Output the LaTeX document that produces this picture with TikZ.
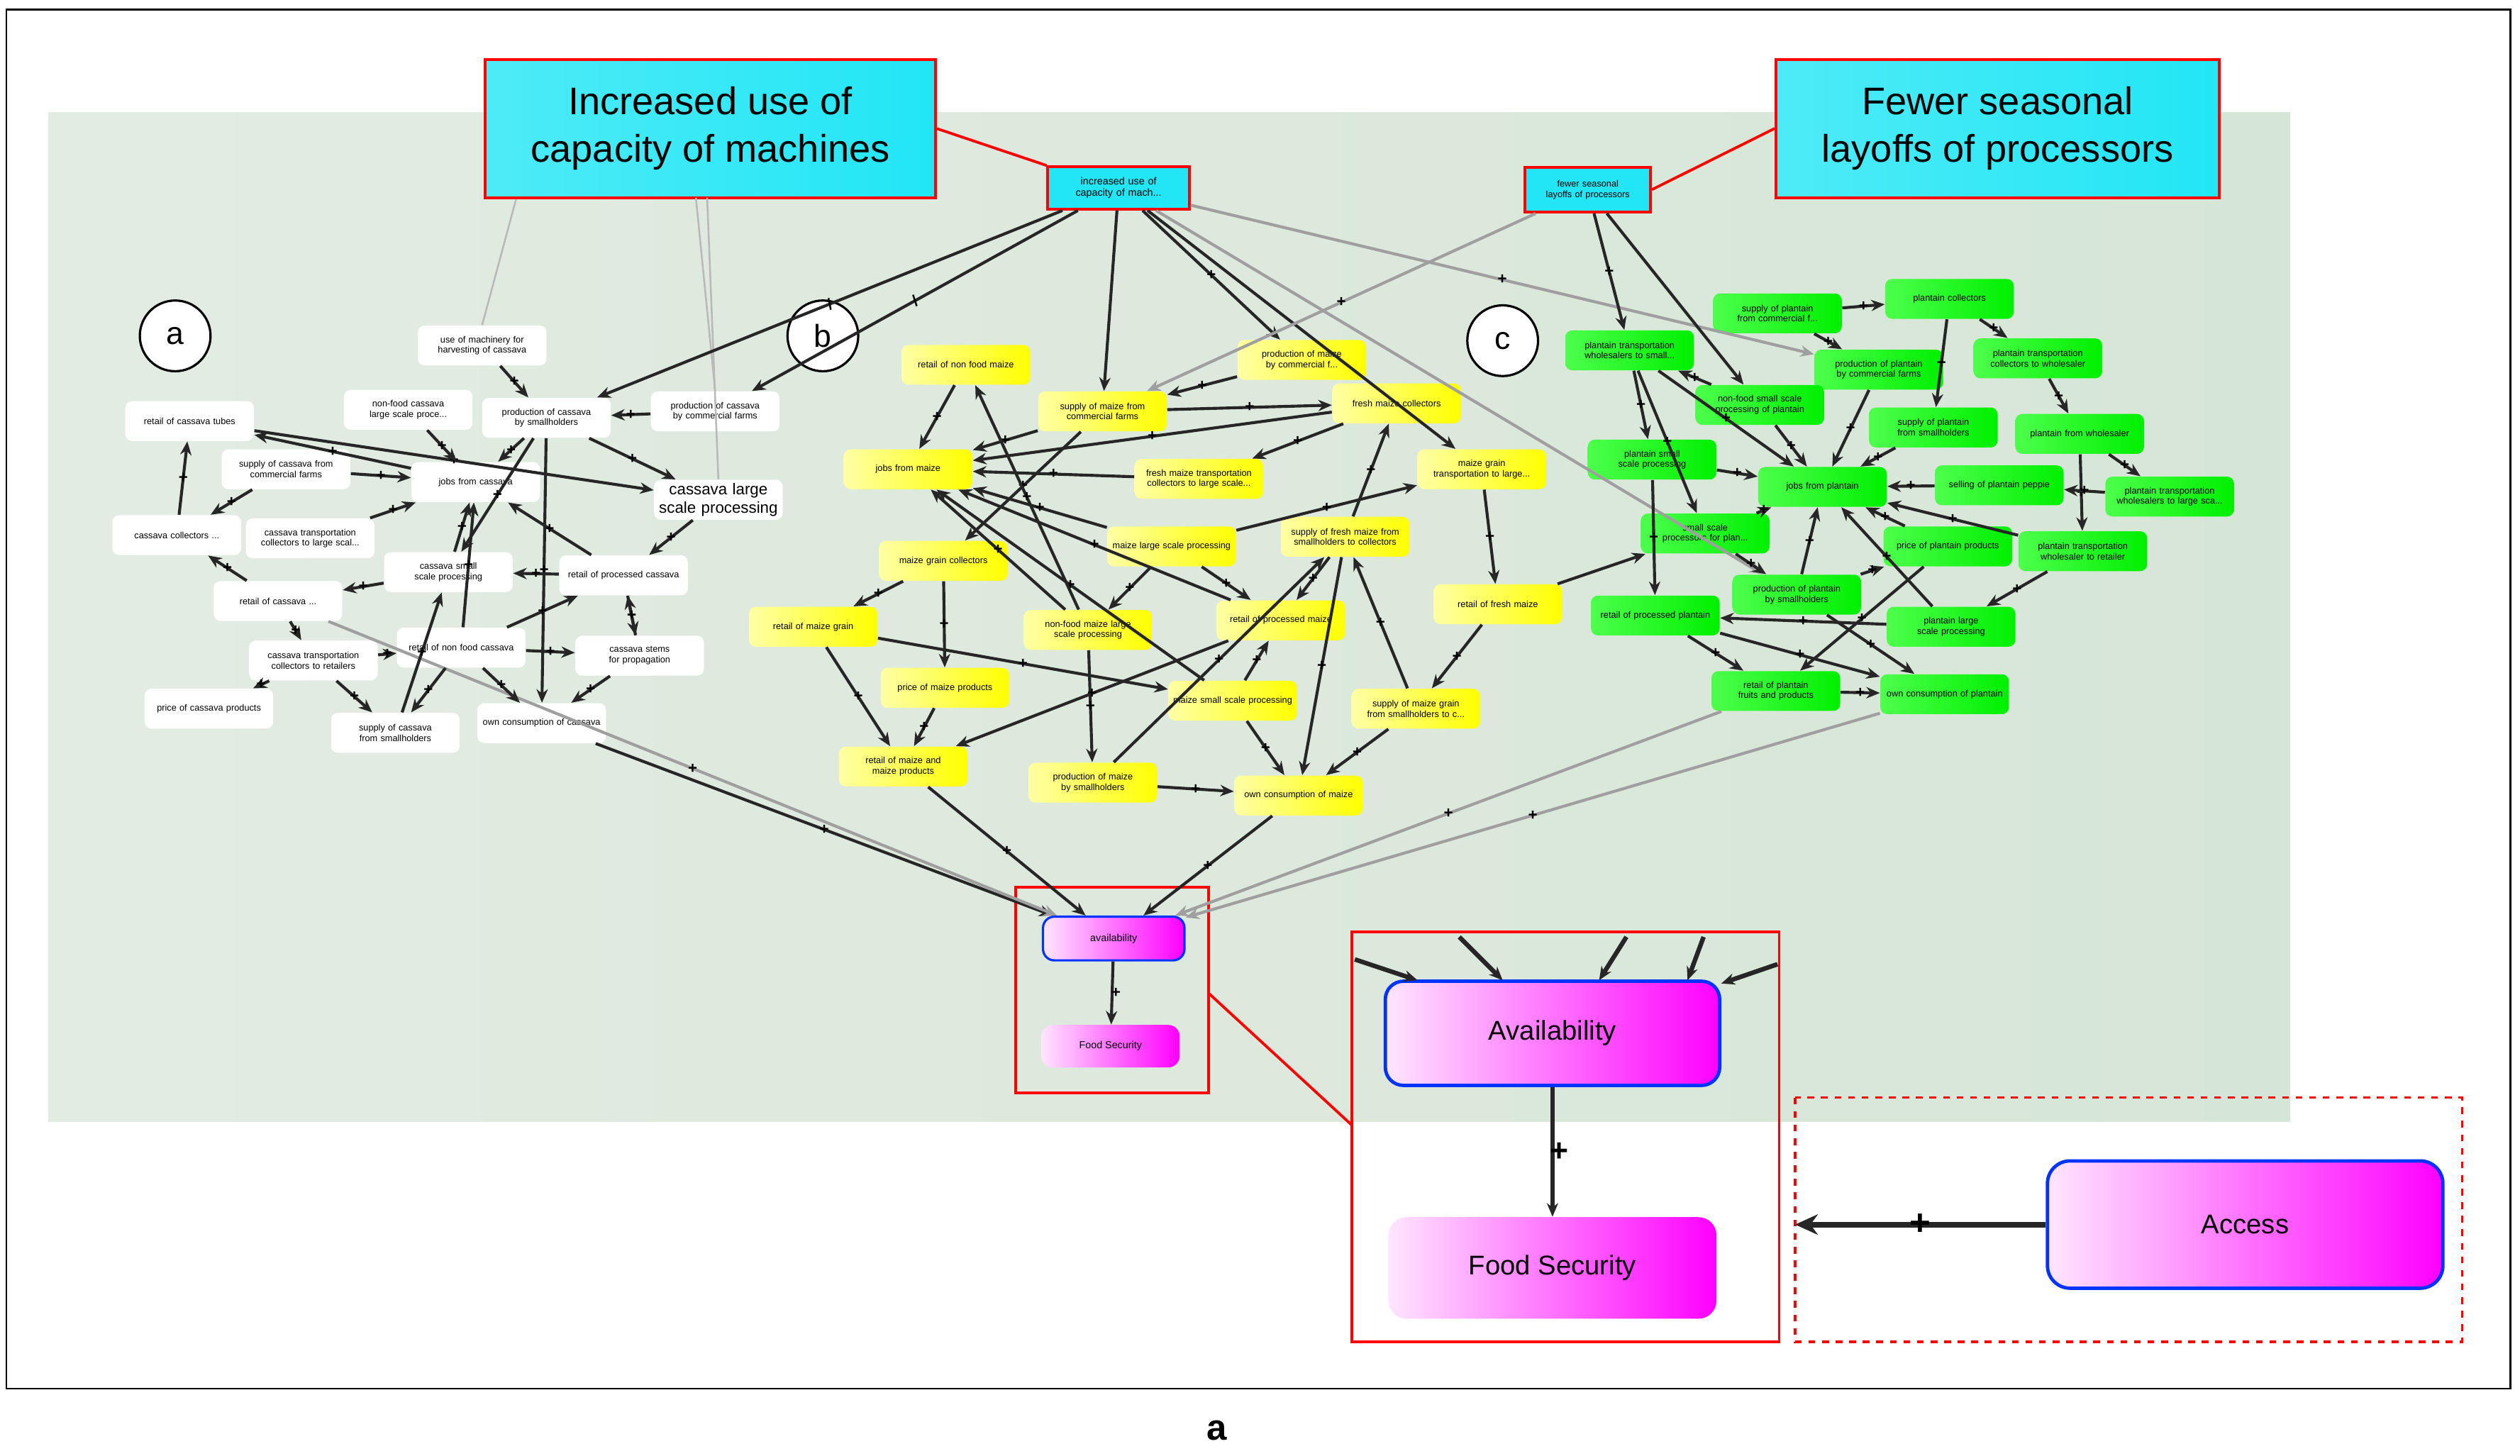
\documentclass[tikz,border=0pt]{standalone}
\usepackage{fontspec}
\setmainfont{Liberation Sans}
\usetikzlibrary{arrows.meta,shapes.geometric}
\definecolor{cy}{HTML}{22E6F5}
\definecolor{bgA}{HTML}{E3ECE3}
\definecolor{bgB}{HTML}{D6E6D6}
\newcommand\nohyph{\hyphenpenalty10000\exhyphenpenalty10000\relax}
\begin{document}
\begin{tikzpicture}[x=0.025cm,y=-0.025cm,
 sn/.style={rounded corners=3pt,minimum width=2.0cm,minimum height=0.62cm,text width=1.9cm,align=center,font=\fontsize{4}{4.6}\selectfont\nohyph,inner sep=1pt},
 wn/.style={sn,fill=white},
 yn/.style={sn,left color=yellow!35,right color=yellow,draw=none},
 gn/.style={sn,left color=green!70!white,right color=green!85!black!40!green,draw=none},
 mg/.style={rounded corners=5pt,left color=magenta!10,right color=magenta,align=center},
 e/.style={draw=black!85,line width=1.3pt,-{Stealth[length=6pt,width=5pt]}},
 eg/.style={draw=gray!75,line width=1.3pt,-{Stealth[length=6pt,width=5pt]}},
 el/.style={draw=gray!55,line width=0.8pt},
 pl/.style={font=\fontsize{7}{7}\selectfont\bfseries,inner sep=0pt,fill=none},
 rl/.style={draw=red,line width=1.2pt},
 cir/.style={circle,draw,line width=1pt,fill=white,minimum size=1.1cm,font=\fontsize{14}{14}\selectfont}]
\useasboundingbox (0,0) rectangle (1568,906);
\fill[white] (0,0) rectangle (1568,906);
\draw[line width=0.8pt] (4,6) rectangle (1562,864);
\node[font=\fontsize{16}{16}\selectfont\bfseries\rmfamily] at (757,890) {a};
\shade[left color=bgA,right color=bgB] (30,70) rectangle (1425,698);

% callouts
\node[rl,left color=cy!80!white,right color=cy,minimum width=7cm,minimum height=2.15cm,align=center,font=\fontsize{17}{21}\selectfont] (call1) at (442,80) {Increased use of\\capacity of machines};
\node[rl,left color=cy!80!white,right color=cy,minimum width=6.9cm,minimum height=2.15cm,align=center,font=\fontsize{17}{21}\selectfont] (call2) at (1243,80) {Fewer seasonal\\layoffs of processors};
\node[rl,fill=cy,minimum width=2.2cm,minimum height=0.66cm,text width=2.1cm,align=center,font=\fontsize{4.5}{5}\selectfont\nohyph,inner sep=1pt] (inc) at (696,117) {increased use of capacity of mach...};
\node[rl,fill=cy,minimum width=1.95cm,minimum height=0.7cm,text width=1.85cm,align=center,font=\fontsize{4}{4.6}\selectfont\nohyph,inner sep=1pt] (few) at (988,118) {fewer seasonal layoffs of processors};
\draw[rl] (call1.east) -- (inc.north west);
\draw[rl] (call2.west) -- (few.east);

\node[cir] (ca) at (109,209) {a};
\node[cir] (cb) at (512,209) {b};
\node[cir] (cc) at (935,212) {c};

% cassava
\node[wn] (c1) at (300,215) {use of machinery for harvesting of cassava};
\node[wn] (c2) at (254,255) {non-food cassava large scale proce...};
\node[wn] (c3) at (340,260) {production of cassava by smallholders};
\node[wn] (c4) at (445,256) {production of cassava by commercial farms};
\node[wn] (c5) at (118,262) {retail of cassava tubes};
\node[wn] (c6) at (178,292) {supply of cassava from commercial farms};
\node[wn] (c7) at (296,300) {jobs from cassava};
\node[wn,font=\fontsize{7}{8}\selectfont] (c8) at (447,311) {cassava large scale processing};
\node[wn] (c9) at (110,333) {cassava collectors ...};
\node[wn] (c10) at (193,335) {cassava transportation collectors to large scal...};
\node[wn] (c11) at (279,356) {cassava small scale processing};
\node[wn] (c12) at (388,358) {retail of processed cassava};
\node[wn] (c13) at (173,374) {retail of cassava ...};
\node[wn] (c14) at (287,403) {retail of non food cassava};
\node[wn] (c15) at (398,408) {cassava stems for propagation};
\node[wn] (c16) at (195,411) {cassava transportation collectors to retailers};
\node[wn] (c17) at (130,441) {price of cassava products};
\node[wn] (c18) at (246,456) {supply of cassava from smallholders};
\node[wn] (c19) at (337,450) {own consumption of cassava};

% maize
\node[yn] (m1) at (601,227) {retail of non food maize};
\node[yn] (m2) at (810,224) {production of maize by commercial f...};
\node[yn] (m3) at (686,256) {supply of maize from commercial farms};
\node[yn] (m4) at (869,251) {fresh maize collectors};
\node[yn] (m5) at (565,292) {jobs from maize};
\node[yn] (m6) at (746,298) {fresh maize transportation collectors to large scale...};
\node[yn] (m7) at (922,292) {maize grain transportation to large...};
\node[yn] (m8) at (729,340) {maize large scale processing};
\node[yn] (m9) at (837,334) {supply of fresh maize from smallholders to collectors};
\node[yn] (m10) at (587,349) {maize grain collectors};
\node[yn] (m11) at (932,376) {retail of fresh maize};
\node[yn] (m12) at (506,390) {retail of maize grain};
\node[yn] (m13) at (677,392) {non-food maize large scale processing};
\node[yn] (m14) at (797,386) {retail of processed maize};
\node[yn] (m15) at (588,428) {price of maize products};
\node[yn] (m16) at (767,436) {maize small scale processing};
\node[yn] (m17) at (881,441) {supply of maize grain from smallholders to c...};
\node[yn] (m18) at (562,477) {retail of maize and maize products};
\node[yn] (m19) at (680,487) {production of maize by smallholders};
\node[yn] (m20) at (808,495) {own consumption of maize};

% plantain
\node[gn] (p1) at (1106,195) {supply of plantain from commercial f...};
\node[gn] (p2) at (1213,186) {plantain collectors};
\node[gn] (p3) at (1014,218) {plantain transportation wholesalers to small...};
\node[gn] (p4) at (1169,230) {production of plantain by commercial farms};
\node[gn] (p5) at (1268,223) {plantain transportation collectors to wholesaler};
\node[gn] (p6) at (1095,252) {non-food small scale processing of plantain};
\node[gn] (p7) at (1203,266) {supply of plantain from smallholders};
\node[gn] (p8) at (1294,270) {plantain from wholesaler};
\node[gn] (p9) at (1028,286) {plantain small scale processing};
\node[gn] (p10) at (1134,303) {jobs from plantain};
\node[gn] (p11) at (1244,302) {selling of plantain peppie};
\node[gn] (p12) at (1350,309) {plantain transportation wholesalers to large sca...};
\node[gn] (p13) at (1061,332) {small scale processors for plan...};
\node[gn] (p14) at (1212,340) {price of plantain products};
\node[gn] (p15) at (1296,343) {plantain transportation wholesaler to retailer};
\node[gn] (p16) at (1118,370) {production of plantain by smallholders};
\node[gn] (p17) at (1030,383) {retail of processed plantain};
\node[gn] (p18) at (1214,390) {plantain large scale processing};
\node[gn] (p19) at (1105,430) {retail of plantain fruits and products};
\node[gn] (p20) at (1210,432) {own consumption of plantain};

% availability small box
\draw[rl] (632,552) rectangle (752,680);
\node[mg,draw=blue!80!cyan,line width=1pt,minimum width=2.2cm,minimum height=0.68cm,font=\fontsize{4.5}{5}\selectfont] (av) at (693,584) {availability};
\node[mg,minimum width=2.15cm,minimum height=0.66cm,font=\fontsize{4.5}{5}\selectfont] (fs) at (691,651) {Food Security};
\draw[e] (av) -- node[pl,right=-1pt]{+} (fs);

% zoom box
\draw[rl] (841,580) rectangle (1107,835);
\draw[rl] (752,618) -- (841,700);
\node[mg,draw=blue!80!cyan,line width=1.5pt,rounded corners=8pt,minimum width=5.2cm,minimum height=1.62cm,font=\fontsize{12}{14}\selectfont] (AV) at (966,643) {Availability};
\node[mg,rounded corners=8pt,minimum width=5.1cm,minimum height=1.58cm,font=\fontsize{12}{14}\selectfont] (FS) at (966,789) {Food Security};
\draw[e,line width=2pt] (AV) -- node[pl,font=\fontsize{14}{14}\selectfont\bfseries,right=-2pt]{+} (FS);
\coordinate (z1) at (843,597); \coordinate (z2) at (908,583); \coordinate (z3) at (1012,583);
\coordinate (z4) at (1060,583); \coordinate (z5) at (1106,600);
\draw[e,line width=2pt] (z1) -- (882,610);
\draw[e,line width=2pt] (z2) -- (935,610);
\draw[e,line width=2pt] (z3) -- (995,610);
\draw[e,line width=2pt] (z4) -- (1050,610);
\draw[e,line width=2pt] (z5) -- (1071,612);

% access
\draw[red,dashed,line width=1pt] (1117,683) rectangle (1532,835);
\node[mg,draw=blue!80!cyan,line width=1.5pt,rounded corners=10pt,minimum width=6.15cm,minimum height=1.98cm,font=\fontsize{12}{14}\selectfont] (AC) at (1397,762) {Access};
\coordinate (acl) at (1117,762);
\draw[e,line width=2.5pt,-{Stealth[length=10pt,width=9pt]}] (AC) -- node[pl,font=\fontsize{16}{16}\selectfont\bfseries]{+} (acl);

% long connections
\draw[el] (call1.south west) ++(20,0) -- (c1.north);
\draw[el] (433,123) -- (c4.north);
\draw[el] (440,123) -- (c8.north);
\draw[e] (inc) -- node[pl,sloped]{/} (c3);
\draw[e] (inc) -- node[pl,sloped]{/} (c4);
\draw[e] (inc) -- node[pl]{+} (m2);
\draw[e] (inc) -- (m3);
\draw[e] (inc) -- (m7);
\draw[eg] (inc) -- node[pl]{+} (p4);
\draw[eg] (inc) -- (p16);
\draw[eg] (few) -- node[pl]{+} (m3);
\draw[e] (few) -- node[pl]{+} (p3);
\draw[e] (few) -- (p6);
\draw[e] (c19) -- node[pl]{+} (av);
\draw[eg] (c13) -- node[pl]{+} (av);
\draw[e] (m18) -- node[pl]{+} (av);
\draw[e] (m20) -- node[pl]{+} (av);
\draw[eg] (p19) -- node[pl]{+} (av);
\draw[eg] (p20) -- node[pl]{+} (av);

% cassava edges
\foreach \a/\b in {c1/c3,c4/c3,c3/c8,c5/c8,c6/c7,c10/c7,c2/c7,c3/c7,c11/c7,c12/c7,c14/c7,c8/c12,c3/c19,c13/c9,c9/c5,c13/c16,c16/c17,c16/c18,c14/c18,c14/c19,c15/c19,c12/c15,c11/c13,c6/c9,c14/c15,c3/c11,c7/c5,c18/c11,c12/c11,c16/c14,c15/c12,c14/c12}
  \draw[e] (\a) -- node[pl]{+} (\b);
% maize edges
\foreach \a/\b in {m1/m5,m3/m4,m2/m3,m4/m6,m6/m5,m3/m5,m4/m5,m3/m10,m10/m12,m10/m15,m12/m18,m8/m13,m8/m14,m13/m5,m14/m5,m8/m5,m7/m11,m9/m4,m9/m14,m9/m20,m19/m20,m16/m20,m17/m20,m12/m16,m13/m19,m15/m18,m14/m18,m11/m17,m16/m5,m19/m9,m13/m1,m17/m9,m8/m7,m16/m14}
  \draw[e] (\a) -- node[pl]{+} (\b);
% plantain edges
\foreach \a/\b in {p1/p2,p1/p4,p2/p5,p5/p8,p8/p12,p8/p15,p3/p9,p3/p13,p9/p10,p6/p10,p4/p10,p7/p10,p2/p7,p11/p10,p12/p11,p13/p16,p9/p17,p17/p19,p16/p10,p14/p10,p18/p17,p16/p20,p17/p20,p15/p18,p18/p10,p16/p14,p15/p10,p13/p10,p3/p10,p6/p3,p19/p20,p14/p19}
  \draw[e] (\a) -- node[pl]{+} (\b);
\draw[e] (m11) -- (p13);
\end{tikzpicture}
\end{document}
